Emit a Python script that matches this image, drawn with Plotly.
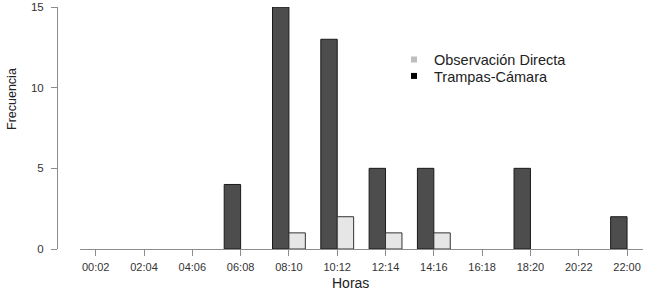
import plotly.graph_objects as go

horas = ["00:02", "02:04", "04:06", "06:08", "08:10", "10:12",
         "12:14", "14:16", "16:18", "18:20", "20:22", "22:00"]
trampas_camara = [0, 0, 0, 4, 15, 13, 5, 5, 0, 5, 0, 2]
observacion_directa = [0, 0, 0, 0, 1, 2, 1, 1, 0, 0, 0, 0]

W, H = 650, 303
ml, mr, mt, mb = 57, 7, 7, 54
pw = W - ml - mr
ph = H - mt - mb
dom0 = 23 / pw


def hide_zero(vals):
    return [v if v != 0 else None for v in vals]


def px(x):
    return (x - ml) / pw


def py(y):
    return (H - mb - y) / ph


fig = go.Figure()
fig.add_trace(go.Bar(x=horas, y=hide_zero(trampas_camara), name="Trampas-Cámara",
                     marker=dict(color="#4d4d4d", line=dict(color="#1a1a1a", width=1)),
                     showlegend=False))
fig.add_trace(go.Bar(x=horas, y=hide_zero(observacion_directa), name="Observación Directa",
                     marker=dict(color="#e6e6e6", line=dict(color="#333333", width=1)),
                     showlegend=False))
# legend entries
fig.add_trace(go.Scatter(x=[None], y=[None], mode="markers", name="Observación Directa",
                         marker=dict(symbol="square", size=6, color="#bebebe"), legend="legend"))
fig.add_trace(go.Scatter(x=[None], y=[None], mode="markers", name="Trampas-Cámara",
                         marker=dict(symbol="square", size=6, color="#000000"), legend="legend2"))

leg_common = dict(xanchor="left", yanchor="middle",
                  font=dict(size=14.5, color="#222222"), bgcolor="rgba(0,0,0,0)",
                  itemwidth=30, tracegroupgap=0)

fig.update_layout(
    width=W, height=H,
    margin=dict(l=ml, r=mr, t=mt, b=mb, autoexpand=False),
    paper_bgcolor="white", plot_bgcolor="white",
    barmode="group", bargap=0.32, bargroupgap=0,
    font=dict(family="Liberation Sans, Arial, sans-serif", size=11, color="#333333"),
    legend=dict(x=px(394), y=py(59.5), **leg_common),
    legend2=dict(x=px(394), y=py(76), **leg_common),
    xaxis=dict(domain=[dom0, 1], type="category", range=[-0.325, 11.33],
               automargin=False,
               showline=True, linecolor="#8c8c8c", linewidth=1,
               ticks="outside", ticklen=6, tickcolor="#8c8c8c",
               ticklabelstandoff=2,
               showgrid=False, zeroline=False),
    yaxis=dict(anchor="free", position=0, range=[0, 15], automargin=False,
               tickvals=[0, 5, 10, 15],
               showline=True, linecolor="#8c8c8c", linewidth=1,
               ticks="outside", ticklen=6, tickcolor="#8c8c8c",
               ticklabelstandoff=5, tickfont=dict(size=11.5),
               showgrid=False, zeroline=False),
    annotations=[
        dict(text="Horas", xref="paper", yref="paper", x=px(350), y=py(283),
             xanchor="center", yanchor="middle", showarrow=False,
             font=dict(size=14, color="#222222")),
        dict(text="Frecuencia", xref="paper", yref="paper", x=px(12), y=py(99),
             xanchor="center", yanchor="middle", showarrow=False, textangle=-90,
             font=dict(size=12.5, color="#222222")),
    ],
)

fig.write_html("out.html", config={"displayModeBar": False},
               post_script="document.body.style.margin='0';")
